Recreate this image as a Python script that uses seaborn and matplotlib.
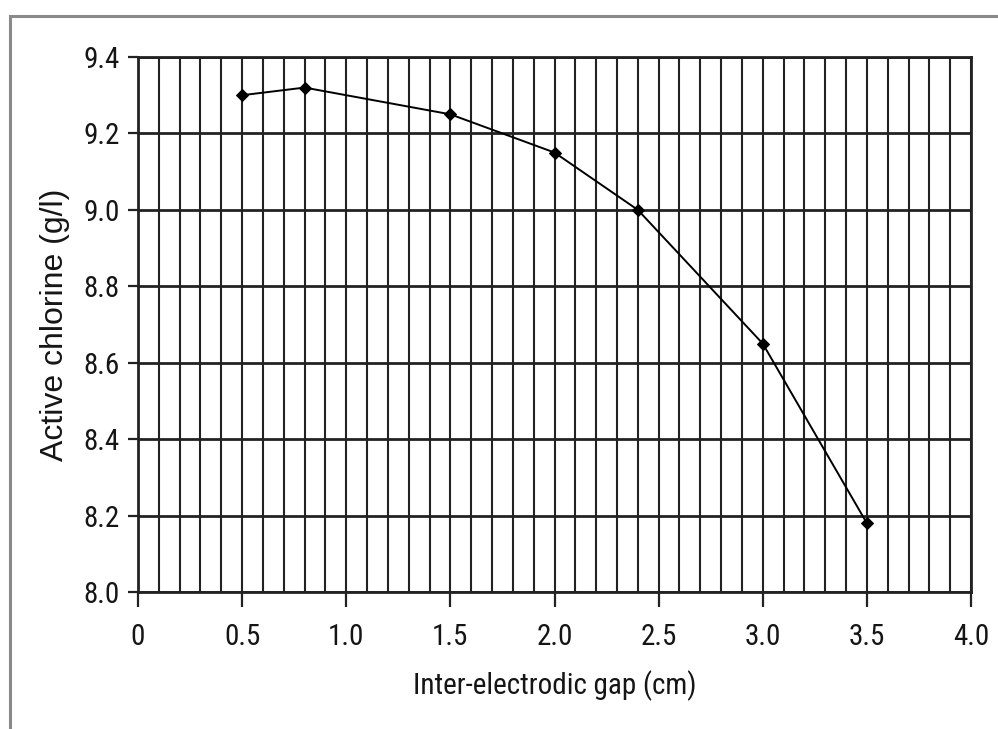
import matplotlib
matplotlib.use("Agg")
import matplotlib.pyplot as plt
import seaborn as sns
import numpy as np
import pandas as pd
from matplotlib.patches import Rectangle

gap_cm = [0.5, 0.8, 1.5, 2.0, 2.4, 3.0, 3.5]
active_chlorine = [9.30, 9.32, 9.25, 9.15, 9.00, 8.65, 8.18]
x_ticks = [0, 0.5, 1.0, 1.5, 2.0, 2.5, 3.0, 3.5, 4.0]
x_tick_labels = ["0", "0.5", "1.0", "1.5", "2.0", "2.5", "3.0", "3.5", "4.0"]
y_ticks = [8.0, 8.2, 8.4, 8.6, 8.8, 9.0, 9.2, 9.4]
y_tick_labels = ["8.0", "8.2", "8.4", "8.6", "8.8", "9.0", "9.2", "9.4"]

sns.set_style("white")
plt.rcParams['font.family'] = ['Roboto Condensed', 'Archivo Narrow', 'Liberation Sans', 'DejaVu Sans']

df = pd.DataFrame({"gap": gap_cm, "cl": active_chlorine})

fig = plt.figure(figsize=(9.98, 7.29), dpi=100)
ax = fig.add_axes([138/998, 1-592/729, (971-138)/998, (592-57)/729])

# figure frame (open towards right/bottom edges)
fig.patches.append(Rectangle((10/998, -0.1), 1.2, 1-16/729+0.1, transform=fig.transFigure,
                             fill=False, edgecolor="#8a8a8a", linewidth=2.2, zorder=0))

for v in np.arange(0, 41) / 10:
    ax.axvline(v, color="#222222", linewidth=1.5, zorder=1)
for h in y_ticks:
    ax.axhline(h, color="#222222", linewidth=2.0, zorder=1)

sns.lineplot(data=df, x="gap", y="cl", ax=ax, color="black", linewidth=1.4,
             marker="D", markersize=6.5, markeredgecolor="black", zorder=3)

ax.set_xlim(0, 4.0)
ax.set_ylim(8.0, 9.4)
ax.set_xticks(x_ticks)
ax.set_xticklabels(x_tick_labels)
ax.set_yticks(y_ticks)
ax.set_yticklabels(y_tick_labels)
ax.tick_params(axis="both", direction="out", width=1.6, color="#222222",
               labelsize=21, labelcolor="#151515", left=True, bottom=True)
ax.tick_params(axis="x", length=11, pad=11)
ax.tick_params(axis="y", length=7, pad=6)
for s in ax.spines.values():
    s.set_color("#222222")
    s.set_linewidth(2.0)

ax.set_xlabel("Inter-electrodic gap (cm)", fontsize=21, color="#151515", labelpad=14)
ax.set_ylabel("Active chlorine (g/l)", fontsize=23, color="#151515", labelpad=10,
              family=['Liberation Sans', 'DejaVu Sans'])

fig.savefig("out.png", dpi=100)
